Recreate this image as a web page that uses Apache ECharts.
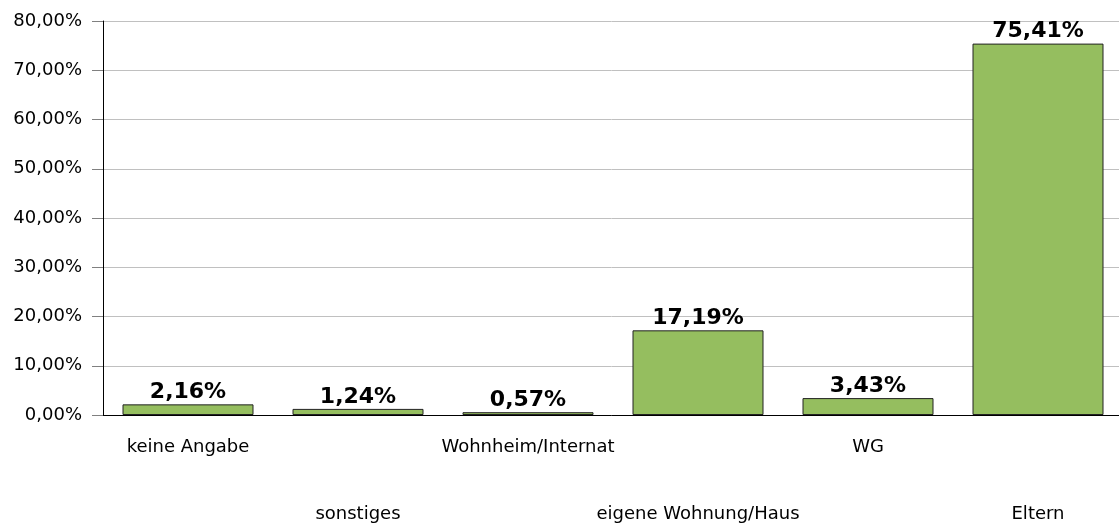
<!DOCTYPE html>
<html>
<head>
<meta charset="utf-8">
<script src="https://cdn.jsdelivr.net/npm/echarts@6/dist/echarts.min.js"></script>
<style>
  html, body { margin: 0; padding: 0; background: #fff; }
  #chart { width: 1119px; height: 527px; }
</style>
</head>
<body>
<div id="chart"></div>
<script>
// Wohnsituation (Anteile in %)
const categories = ['keine Angabe', 'sonstiges', 'Wohnheim/Internat', 'eigene Wohnung/Haus', 'WG', 'Eltern']
const values = [2.16, 1.24, 0.57, 17.19, 3.43, 75.41]
const yTicks = { min: 0, max: 80, interval: 10 }

const fmt = v => v.toFixed(2).replace('.', ',') + '%'

const chart = echarts.init(document.getElementById('chart'))
chart.setOption({
  backgroundColor: '#fff',
  animation: false,
  textStyle: { fontFamily: 'DejaVu Sans' },
  // plot runs past the right edge, like in the original
  grid: { left: 103, top: 21, width: 1020, height: 394, outerBoundsMode: 'none' },
  xAxis: {
    type: 'category',
    data: categories,
    axisLine: { lineStyle: { color: '#000', width: 1 } },
    axisTick: { length: 11, lineStyle: { color: '#808080' } },
    axisLabel: {
      interval: 0,
      color: '#000',
      fontSize: 18,
      lineHeight: 22.3,
      margin: 21,
      formatter: (v, i) => (i % 2 ? '\n\n\n' + v : v)
    }
  },
  yAxis: {
    type: 'value',
    min: yTicks.min,
    max: yTicks.max,
    interval: yTicks.interval,
    axisLine: { show: true, lineStyle: { color: '#000', width: 1 } },
    axisTick: { show: true, length: 11, lineStyle: { color: '#808080' } },
    axisLabel: { color: '#000', fontSize: 18, margin: 21, formatter: fmt },
    splitLine: { lineStyle: { color: '#c0c0c0', width: 1 } }
  },
  series: [{
    type: 'bar',
    data: values,
    barWidth: 131,
    itemStyle: { color: '#95be5f', borderColor: '#222', borderWidth: 1 },
    label: {
      show: true,
      position: 'top',
      distance: 1,
      color: '#000',
      fontSize: 22,
      fontWeight: 'bold',
      formatter: p => fmt(p.value)
    }
  }]
})
</script>
</body>
</html>
